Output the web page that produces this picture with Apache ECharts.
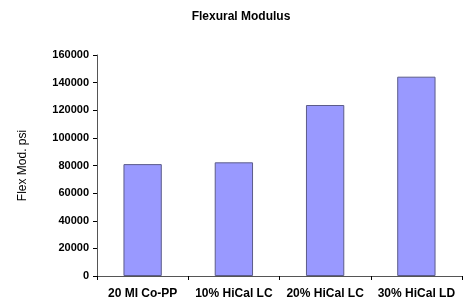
<!DOCTYPE html>
<html>
<head>
<meta charset="utf-8">
<script src="https://cdn.jsdelivr.net/npm/echarts@6/dist/echarts.min.js"></script>
<style>
  html, body { margin: 0; padding: 0; background: #fff; }
  #chart { width: 463px; height: 301px; }
</style>
</head>
<body>
<div id="chart"></div>
<script>
var categories = ["20 MI Co-PP", "10% HiCal LC", "20% HiCal LC", "30% HiCal LD"];
var flexMod = [81000, 82300, 123800, 144300];
var yTicks = { min: 0, max: 160000, interval: 20000 };

var myChart = echarts.init(document.getElementById("chart"));
var option = {
  animation: false,
  title: {
    text: "Flexural Modulus",
    left: 236,
    textAlign: "center",
    top: 6,
    textStyle: {
      fontFamily: "Liberation Sans",
      fontSize: 12,
      fontWeight: "bold",
      color: "#000",
    },
  },
  grid: {
    left: 97,
    right: 1,
    top: 55,
    bottom: 25,
  },
  xAxis: {
    type: "category",
    data: categories,
    axisLine: { lineStyle: { color: "#555", width: 1 } },
    axisTick: { show: true, alignWithLabel: false, length: 4, lineStyle: { color: "#000" } },
    axisLabel: {
      color: "#000",
      fontFamily: "Liberation Sans",
      fontSize: 12,
      fontWeight: "bold",
      margin: 12,
      interval: 0,
    },
  },
  yAxis: {
    type: "value",
    min: yTicks.min,
    max: yTicks.max,
    interval: yTicks.interval,
    name: "Flex Mod. psi",
    nameLocation: "middle",
    nameGap: 68,
    nameTextStyle: {
      color: "#000",
      fontFamily: "Liberation Sans",
      fontSize: 12,
    },
    splitLine: { show: false },
    axisLine: { show: true, lineStyle: { color: "#555", width: 1 } },
    axisTick: { show: true, length: 4, lineStyle: { color: "#000" } },
    axisLabel: {
      color: "#000",
      fontFamily: "Liberation Sans",
      fontSize: 11,
      fontWeight: "bold",
      margin: 8,
      formatter: function (v) { return String(v); },
    },
  },
  series: [
    {
      type: "bar",
      data: flexMod,
      barWidth: "42%",
      itemStyle: {
        color: "#9999ff",
        borderColor: "#5c5c8a",
        borderWidth: 1,
      },
    },
  ],
};
myChart.setOption(option);
</script>
</body>
</html>
